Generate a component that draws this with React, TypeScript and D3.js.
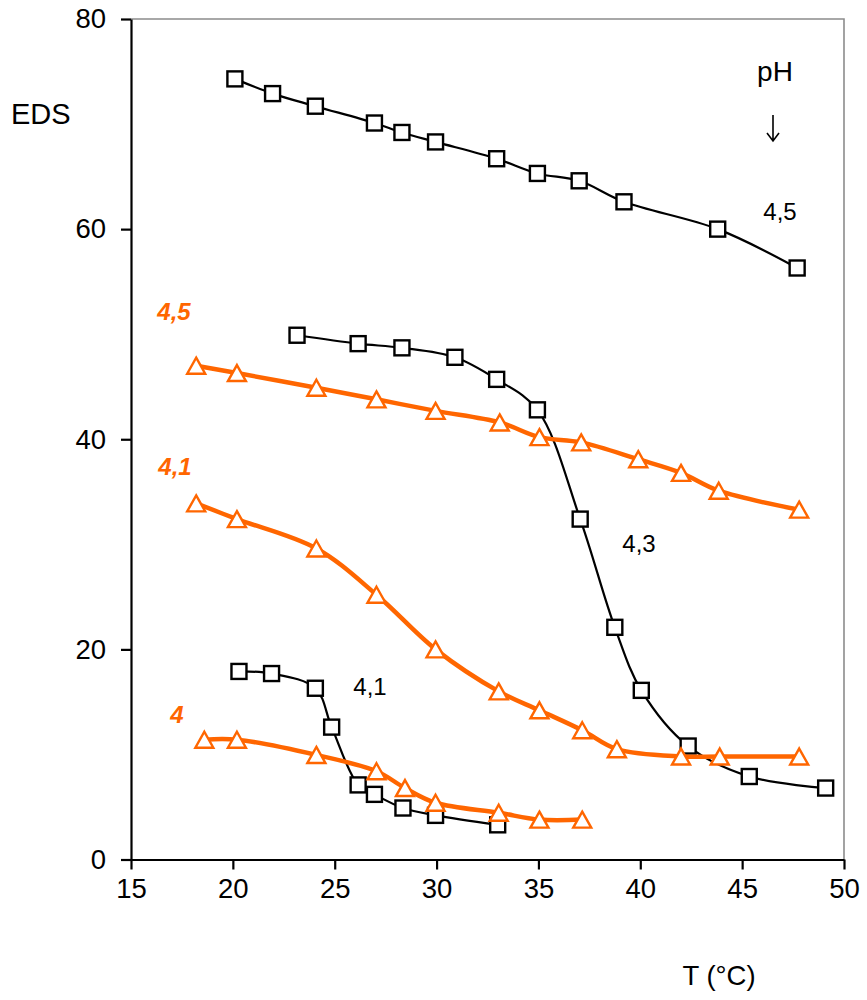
import * as d3 from "d3";
import React, { useEffect, useRef } from "react";

// pH 4,5 (squares, black)
const t45Sq = [20.1, 21.95, 24.05, 26.95, 28.3, 29.95, 32.95, 34.95, 37.0, 39.2, 43.8, 47.7];
const e45Sq = [74.3, 72.9, 71.7, 70.1, 69.2, 68.3, 66.7, 65.3, 64.6, 62.6, 60.0, 56.3];
// pH 4,3 (squares, black)
const t43Sq = [23.15, 26.15, 28.3, 30.9, 32.95, 34.95, 37.05, 38.75, 40.05, 42.35, 45.35, 49.1];
const e43Sq = [49.9, 49.1, 48.7, 47.8, 45.7, 42.8, 32.4, 22.1, 16.1, 10.8, 7.9, 6.8];
// pH 4,1 (squares, black)
const t41Sq = [20.3, 21.9, 24.05, 24.85, 26.15, 26.95, 28.35, 29.95, 33.0];
const e41Sq = [17.9, 17.7, 16.3, 12.6, 7.1, 6.2, 4.9, 4.2, 3.3];

// pH 4,5 (triangles, orange)
const t45Tri = [18.2, 20.2, 24.1, 27.05, 29.95, 33.1, 35.05, 37.1, 39.9, 42.0, 43.85, 47.8];
const e45Tri = [47.0, 46.3, 44.9, 43.8, 42.7, 41.6, 40.2, 39.7, 38.1, 36.8, 35.1, 33.3];
// pH 4,1 (triangles, orange)
const t41Tri = [18.2, 20.2, 24.1, 27.05, 29.95, 33.05, 35.05, 37.15, 38.85, 42.0, 43.9, 47.8];
const e41Tri = [33.9, 32.4, 29.6, 25.2, 20.0, 16.0, 14.2, 12.3, 10.5, 9.8, 9.8, 9.8];
// pH 4 (triangles, orange)
const t40Tri = [18.6, 20.2, 24.1, 27.05, 28.45, 29.95, 33.05, 35.05, 37.15];
const e40Tri = [11.4, 11.4, 9.95, 8.4, 6.8, 5.4, 4.45, 3.8, 3.8];

const xTicks = [15, 20, 25, 30, 35, 40, 45, 50];
const yTicks = [0, 20, 40, 60, 80];

const ORANGE = "#FF6600";
const FONT = "'Liberation Sans', Arial, sans-serif";

const App: React.FC = () => {
  const ref = useRef<HTMLDivElement>(null);

  useEffect(() => {
    const width = 867;
    const height = 1000;
    const left = 131;
    const right = 844;
    const top = 19;
    const bottom = 859.5;

    const x = d3.scaleLinear().domain([15, 50]).range([left, right]);
    const y = d3.scaleLinear().domain([0, 80]).range([bottom, top]);

    const svg = d3.select(ref.current)
      .append("svg")
      .attr("width", width)
      .attr("height", height)
      .attr("viewBox", `0 0 ${width} ${height}`)
      .style("position", "absolute")
      .style("left", "0px")
      .style("top", "0px")
      .style("font-family", FONT);

    svg.append("rect").attr("width", width).attr("height", height).attr("fill", "white");

    // frame: grey top / right
    svg.append("path")
      .attr("fill", "none")
      .attr("stroke", "#8c8c8c")
      .attr("stroke-width", 1.6)
      .attr("d", `M${left},${top}H${right}V${bottom}`);

    // y axis
    svg.append("g")
      .attr("transform", `translate(${left},0)`)
      .call(d3.axisLeft(y).tickValues(yTicks).tickSize(10).tickPadding(15).tickSizeOuter(0))
      .call(g => g.select(".domain").attr("stroke-width", 2.2))
      .call(g => g.selectAll(".tick line").attr("stroke-width", 2.2))
      .call(g => g.selectAll(".tick text")
        .attr("font-size", 27.5)
        .attr("font-family", FONT)
        .attr("fill", "black"));

    // x axis
    svg.append("g")
      .attr("transform", `translate(0,${bottom})`)
      .call(d3.axisBottom(x).tickValues(xTicks).tickSize(10).tickPadding(28).tickSizeOuter(0))
      .call(g => g.select(".domain").attr("stroke-width", 2.2))
      .call(g => g.selectAll(".tick line").attr("stroke-width", 2.2))
      .call(g => g.selectAll(".tick text")
        .attr("font-size", 27.5)
        .attr("font-family", FONT)
        .attr("dy", 0)
        .attr("fill", "black"));

    const line = d3.line<[number, number]>()
      .x(d => x(d[0]))
      .y(d => y(d[1]))
      .curve(d3.curveCatmullRom.alpha(0.5));

    const squareSeries = [
      [t45Sq, e45Sq],
      [t43Sq, e43Sq],
      [t41Sq, e41Sq],
    ];
    const triSeries = [
      [t45Tri, e45Tri],
      [t41Tri, e41Tri],
      [t40Tri, e40Tri],
    ];

    squareSeries.forEach(([ts, es]) => {
      const pts = ts.map((t, i) => [t, es[i]] as [number, number]);
      svg.append("path")
        .attr("fill", "none")
        .attr("stroke", "black")
        .attr("stroke-width", 2.2)
        .attr("d", line(pts));
      svg.append("g")
        .selectAll("rect")
        .data(pts)
        .join("rect")
        .attr("x", d => x(d[0]) - 7.5)
        .attr("y", d => y(d[1]) - 7.5)
        .attr("width", 15)
        .attr("height", 15)
        .attr("fill", "white")
        .attr("stroke", "black")
        .attr("stroke-width", 2.4);
    });

    triSeries.forEach(([ts, es]) => {
      const pts = ts.map((t, i) => [t, es[i]] as [number, number]);
      svg.append("path")
        .attr("fill", "none")
        .attr("stroke", ORANGE)
        .attr("stroke-width", 4.5)
        .attr("stroke-linejoin", "round")
        .attr("d", line(pts));
      svg.append("g")
        .selectAll("path")
        .data(pts)
        .join("path")
        .attr("transform", d => `translate(${x(d[0])},${y(d[1])})`)
        .attr("d", "M0,-8L9,8L-9,8Z")
        .attr("fill", "white")
        .attr("stroke", ORANGE)
        .attr("stroke-width", 2.4)
        .attr("stroke-linejoin", "miter");
    });

    // axis titles
    svg.append("text").attr("x", 11).attr("y", 124).attr("font-size", 29).text("EDS");
    svg.append("text").attr("x", 719).attr("y", 985).attr("font-size", 27.5)
      .attr("text-anchor", "middle").text("T (°C)");

    // pH annotation
    svg.append("text").attr("x", 775).attr("y", 81).attr("font-size", 28)
      .attr("text-anchor", "middle").text("pH");
    svg.append("path")
      .attr("fill", "none")
      .attr("stroke", "black")
      .attr("stroke-width", 1.6)
      .attr("d", "M773,115V141M767,133L773,141L779,133");

    // black labels
    const blackLabels: [string, number, number][] = [
      ["4,5", 780, 220],
      ["4,3", 639, 552],
      ["4,1", 370, 695],
    ];
    blackLabels.forEach(([s, lx, ly]) => {
      svg.append("text").attr("x", lx).attr("y", ly).attr("font-size", 24)
        .attr("text-anchor", "middle").text(s);
    });

    // orange labels
    const orangeLabels: [string, number, number][] = [
      ["4,5", 174, 320],
      ["4,1", 175, 475],
      ["4", 177, 723],
    ];
    orangeLabels.forEach(([s, lx, ly]) => {
      svg.append("text").attr("x", lx).attr("y", ly).attr("font-size", 24)
        .attr("font-weight", "bold").attr("font-style", "italic")
        .attr("fill", ORANGE)
        .attr("text-anchor", "middle").text(s);
    });

    return () => {
      d3.select(ref.current).selectAll("*").remove();
    };
  }, []);

  return <div ref={ref} />;
};

export default App;
